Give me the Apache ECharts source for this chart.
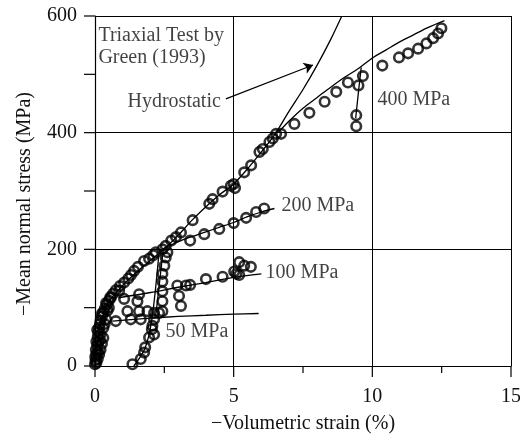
<!DOCTYPE html>
<html>
<head>
<meta charset="utf-8">
<script src="https://cdn.jsdelivr.net/npm/echarts@6/dist/echarts.min.js"></script>
<style>
  html, body { margin: 0; padding: 0; background: #fff; }
  #main { width: 520px; height: 436px; }
</style>
</head>
<body>
<div id="main"></div>
<script>
var hydroPts = [[0.0,3],[0.02,10],[0.01,16],[0.05,20],[0.03,28],[0.08,35],[0.05,42],[0.1,50],[0.12,58],
  [0.15,66],[0.18,72],[0.2,78],[0.25,85],[0.3,92],[0.35,98],[0.42,105],[0.5,112],[0.57,117],[0.65,124],
  [0.75,130],[0.9,137],[1.05,143],[1.2,150],[1.3,156],[1.41,163],[1.55,170],[1.77,180],[1.95,184],
  [2.1,190],[2.19,195],[2.43,200],[2.55,206],[2.75,215],[2.92,221],[3.1,229],[3.52,250],[4.12,278],
  [4.24,286],[4.6,299],[4.9,309],[5.0,312],[5.05,305],[5.38,332],[5.63,344],[5.93,367],[6.05,372],
  [6.29,384],[6.41,390],[6.53,398],[6.71,398]];
var originPts = [[0.05,5],[0.1,12],[0.15,20],[0.2,28],[0.25,38],[0.3,48],[0.12,40],[0.2,55],[0.3,65],
  [0.35,72],[0.4,80],[0.25,90],[0.45,95],[0.5,100],[0.4,108],[0.55,118],[0.1,25],[0.18,45],[0.08,62]];
var mpa400Pts = [[7.19,415],[7.73,434],[8.28,453],[8.7,470],[9.12,486],[9.66,497],[9.5,481],[9.42,430],
  [9.42,411],[10.36,515],[10.96,529],[11.29,536],[11.65,544],[11.95,553],[12.19,562],[12.37,570],[12.49,579]];
var mpa200Pts = [[3.43,215],[3.94,226],[4.48,235],[5.0,245],[5.45,254],[5.81,264],[6.1,270]];
var mpa100Pts = [[0.87,129],[1.05,115],[1.53,111],[1.59,123],[2.97,138],[3.28,138],[3.03,120],[3.1,103],
  [3.43,139],[4.0,149],[4.6,153],[5.02,162],[5.2,156],[5.2,178],[5.38,172],[5.62,170],[5.1,158]];
var mpa50Pts = [[0.75,77],[1.17,94],[1.29,80],[1.59,94],[1.65,80],[1.89,94],[2.13,91],[2.31,91]];
var unloadPts = [[1.35,3],[1.65,12],[1.77,23],[1.81,32],[1.95,49],[2.05,63],[2.13,54],[2.07,69],
  [2.13,80],[2.43,94],[2.43,111],[2.43,128],[2.43,145],[2.43,158],[2.5,172],[2.55,186],[2.61,195]];

// model curves
var hydroLine = [[0,0],[0.05,30],[0.15,60],[0.3,88],[0.5,110],[0.8,128],[1.2,148],[1.6,165],[2.0,181],
  [2.5,201],[3.0,224],[3.5,250],[4.0,273],[4.5,294],[5.0,312],[5.5,338],[6.0,367],[6.5,398],[7.0,437],
  [7.5,474],[8.0,515],[8.5,560],[8.9,600]];
var line400 = [[6.6,400],[7.0,420],[7.5,442],[8.0,460],[8.5,478],[9.0,495],[9.5,510],[10.0,528],
  [10.5,542],[11.0,556],[11.5,568],[12.0,580],[12.6,592]];
var unload400 = [[9.6,512],[9.5,470],[9.4,425]];
var line200 = [[2.3,197],[3.0,213],[3.5,222],[4.0,230],[4.5,238],[5.0,246],[5.5,256],[6.0,264],[6.47,270]];
var line100 = [[0.85,117],[2,126],[3,135],[4,143],[5,152],[6,158]];
var line50 = [[0.63,77],[2,82],[3,85],[4,87],[5,89],[5.9,90]];
var unloadA = [[1.4,0],[1.8,30],[2.05,80],[2.3,190]];
var unloadB = [[2.2,90],[2.45,195]];

// text annotations [x, y, text]
var notes = [[0.14,546,'Triaxial Test by\nGreen (1993)'],[1.19,453,'Hydrostatic'],[10.2,456,'400 MPa'],
  [6.74,274,'200 MPa'],[6.17,159,'100 MPa'],[2.56,58,'50 MPa']];
var arrow = [[4.72,458],[7.86,516]];

// axis ticks: [value, tick length px]
var xTicks = [[0,11],[2.5,7],[5,11],[7.5,7],[10,11],[12.5,7],[15,11]];
var yTicks = [[0,11],[100,11],[200,11],[300,11],[400,11],[500,11],[600,11]];

var font = 'Liberation Serif';
var chart = echarts.init(document.getElementById('main'), null, { renderer: 'canvas' });

function pts(name, data) {
  return {
    name: name, type: 'scatter', data: data, symbol: 'circle', symbolSize: 9.5, z: 3,
    itemStyle: { color: 'rgba(255,255,255,0)', borderColor: '#000', borderWidth: 2.6 }
  };
}
function curve(name, data) {
  return {
    name: name, type: 'line', data: data, showSymbol: false, smooth: 0.3, z: 2,
    lineStyle: { color: '#000', width: 1.3 }
  };
}

var option = {
  animation: false,
  grid: { left: 95, right: 9, top: 16, bottom: 70, outerBoundsMode: 'none', containLabel: false },
  xAxis: {
    type: 'value', min: xTicks[0][0], max: xTicks[xTicks.length - 1][0], interval: 5,
    name: '\u2212Volumetric strain (%)', nameLocation: 'middle', nameGap: 48,
    nameTextStyle: { fontFamily: font, fontSize: 20, color: '#111' },
    axisLine: { show: true, onZero: false, lineStyle: { color: '#000', width: 1.2 } },
    axisTick: { show: false },
    axisLabel: { fontFamily: font, fontSize: 20, color: '#111', margin: 21 },
    splitLine: { show: true, lineStyle: { color: '#000', width: 1 } }
  },
  yAxis: {
    type: 'value', min: yTicks[0][0], max: yTicks[yTicks.length - 1][0], interval: 200,
    axisLine: { show: true, onZero: false, lineStyle: { color: '#000', width: 1.2 } },
    axisTick: { show: false },
    axisLabel: { fontFamily: font, fontSize: 20, color: '#111', margin: 18 },
    splitLine: { show: true, lineStyle: { color: '#000', width: 1 } }
  },
  series: [
    curve('hydro', hydroLine),
    curve('400', line400),
    curve('400u', unload400),
    curve('200', line200),
    curve('100', line100),
    curve('50', line50),
    curve('ua', unloadA),
    curve('ub', unloadB),
    pts('hydroPts', hydroPts),
    pts('originPts', originPts),
    pts('400pts', mpa400Pts),
    pts('200pts', mpa200Pts),
    pts('100pts', mpa100Pts),
    pts('50pts', mpa50Pts),
    pts('unloadPts', unloadPts),
    {
      name: 'arrow', type: 'lines', coordinateSystem: 'cartesian2d', z: 4,
      symbol: ['none', 'arrow'], symbolSize: 9,
      lineStyle: { color: '#000', width: 1.2, opacity: 1 },
      data: [{ coords: arrow }]
    },
    {
      name: 'notes', type: 'scatter', symbolSize: 1, z: 5, silent: true,
      itemStyle: { color: 'rgba(0,0,0,0)' },
      data: notes.map(function (n) { return { value: [n[0], n[1]], text: n[2] }; }),
      label: {
        show: true, position: [0, 0], align: 'left', verticalAlign: 'middle',
        fontFamily: font, fontSize: 20, color: '#111', lineHeight: 22,
        formatter: function (p) { return p.data.text; }
      }
    }
  ]
};
chart.setOption(option);

// tick marks placed with the chart's own scales
var g = [{
  type: 'text', x: 25, y: 204, rotation: Math.PI / 2,
  style: { text: '\u2212Mean normal stress (MPa)', fontFamily: font, fontSize: 20, fill: '#111',
    align: 'center', verticalAlign: 'middle' }
}];
xTicks.forEach(function (t) {
  var p = chart.convertToPixel({ gridIndex: 0 }, [t[0], yTicks[0][0]]);
  g.push({ type: 'line', z: 10, shape: { x1: p[0], y1: p[1], x2: p[0], y2: p[1] + t[1] },
    style: { stroke: '#000', lineWidth: 1.2 } });
});
yTicks.forEach(function (t) {
  var p = chart.convertToPixel({ gridIndex: 0 }, [xTicks[0][0], t[0]]);
  g.push({ type: 'line', z: 10, shape: { x1: p[0] - t[1], y1: p[1], x2: p[0], y2: p[1] },
    style: { stroke: '#000', lineWidth: 1.2 } });
});
chart.setOption({ graphic: g });
</script>
</body>
</html>
